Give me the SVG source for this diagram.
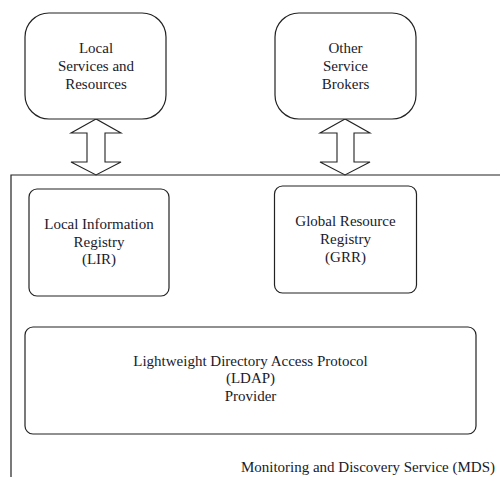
<svg xmlns="http://www.w3.org/2000/svg" width="500" height="477" viewBox="0 0 500 477">
<style>
.box{fill:#fff;stroke:#222;stroke-width:1.2}
.arrow{fill:#fff;stroke:#222;stroke-width:1.1;stroke-linejoin:miter}
.frame{fill:none;stroke:#222;stroke-width:1.2}
text{font-family:"Liberation Serif","Times New Roman",serif;font-size:15px;fill:#1a1a2a;text-anchor:middle}
</style>
<rect width="500" height="477" fill="#fff"/>
<g id="mds">
<path class="frame" d="M11,477 V175 H500"/>
<text x="495" y="472" style="text-anchor:end">Monitoring and Discovery Service (MDS)</text>
</g>
<g id="connectors">
<polygon class="arrow" points="96,119 71,133 87,133 87,162 71,162 96,175 121,162 105,162 105,133 121,133"/>
<polygon class="arrow" points="345,119 320,133 337,133 337,162 320,162 345,175 370,162 354,162 354,133 370,133"/>
</g>
<g id="local-services">
<rect class="box" x="25" y="13" width="141" height="106" rx="24" ry="24"/>
<text x="96" y="52.5">Local</text>
<text x="96" y="70.5">Services and</text>
<text x="96" y="88.5">Resources</text>
</g>
<g id="other-brokers">
<rect class="box" x="275" y="13" width="141" height="106" rx="24" ry="24"/>
<text x="345.5" y="52.5">Other</text>
<text x="345.5" y="70.5">Service</text>
<text x="345.5" y="88.5">Brokers</text>
</g>
<g id="lir">
<rect class="box" x="29" y="189" width="140" height="107" rx="8" ry="8"/>
<text x="99" y="229">Local Information</text>
<text x="99" y="246.5">Registry</text>
<text x="99" y="264">(LIR)</text>
</g>
<g id="grr">
<rect class="box" x="274.5" y="186" width="142" height="107" rx="8" ry="8"/>
<text x="345.5" y="226">Global Resource</text>
<text x="345.5" y="244">Registry</text>
<text x="345.5" y="262">(GRR)</text>
</g>
<g id="ldap">
<rect class="box" x="25" y="327" width="451" height="107" rx="8" ry="8"/>
<text x="250.5" y="365.5">Lightweight Directory Access Protocol</text>
<text x="250.5" y="383">(LDAP)</text>
<text x="250.5" y="400.5">Provider</text>
</g>
</svg>
